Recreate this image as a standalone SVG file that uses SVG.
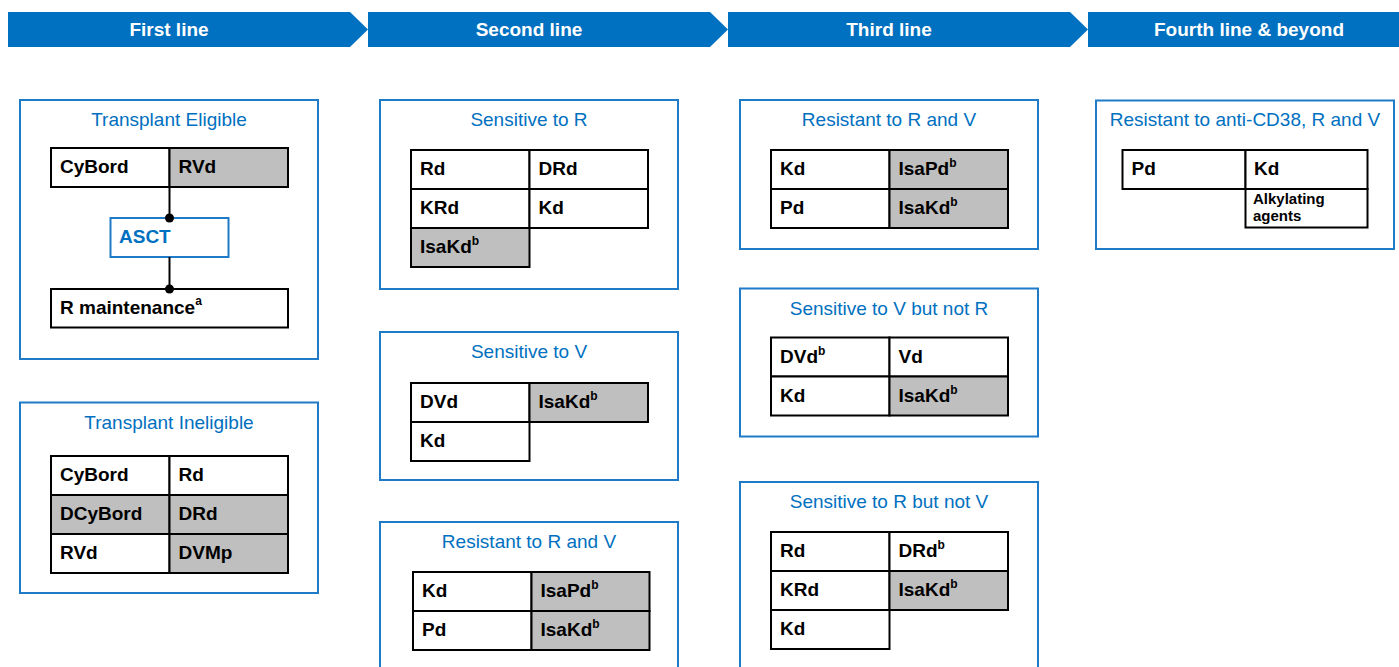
<svg xmlns="http://www.w3.org/2000/svg" width="1399" height="667" viewBox="0 0 1399 667">
<style>
.bar{fill:#0070C0}
.hdr{font-family:"Liberation Sans",Arial,sans-serif;font-weight:bold;font-size:19px;fill:#fff;text-anchor:middle}
.box{fill:#fff;stroke:#1F7BC8;stroke-width:2}
.title{font-family:"Liberation Sans",Arial,sans-serif;font-size:19px;fill:#0070C0;text-anchor:middle}
.c{fill:#fff;stroke:#000;stroke-width:2}
.g{fill:#BFBFBF;stroke:#000;stroke-width:2}
.t{font-family:"Liberation Sans",Arial,sans-serif;font-weight:bold;font-size:19px;fill:#000}
.s{font-size:12px}
.sm{font-family:"Liberation Sans",Arial,sans-serif;font-weight:bold;font-size:15px;fill:#000}
.asct{fill:#fff;stroke:#1F7BC8;stroke-width:2}
.asctt{font-family:"Liberation Sans",Arial,sans-serif;font-weight:bold;font-size:19px;fill:#0070C0}
.ln{stroke:#000;stroke-width:2;fill:none}
.dot{fill:#000}
</style>
<g id="header">
<polygon class="bar" points="8,12 350,12 368,29.5 350,47 8,47"/>
<text class="hdr" x="169" y="36">First line</text>
<polygon class="bar" points="368,12 710,12 728,29.5 710,47 368,47"/>
<text class="hdr" x="529" y="36">Second line</text>
<polygon class="bar" points="728,12 1070,12 1088,29.5 1070,47 728,47"/>
<text class="hdr" x="889" y="36">Third line</text>
<polygon class="bar" points="1088,12 1399,12 1399,47 1088,47"/>
<text class="hdr" x="1249" y="36">Fourth line &amp; beyond</text>
</g>

<g id="transplant-eligible">
<rect class="box" x="20" y="100" width="298" height="259"/>
<text class="title" x="169" y="126">Transplant Eligible</text>
<rect class="c" x="51" y="148" width="118.5" height="39"/>
<rect class="g" x="169.5" y="148" width="118.5" height="39"/>
<text class="t" x="60" y="173">CyBord</text>
<text class="t" x="178.5" y="173">RVd</text>
</g>
<g id="asct">
<rect class="asct" x="110.5" y="218" width="118" height="39"/>
<text class="asctt" x="119" y="243">ASCT</text>
</g>
<g id="r-maintenance">
<rect class="c" x="51" y="289" width="237" height="38.5"/>
<text class="t" x="60" y="313.5">R maintenance<tspan class="s" dy="-9">a</tspan></text>
</g>
<g id="connectors">
<line class="ln" x1="169.5" y1="187" x2="169.5" y2="218"/>
<circle class="dot" cx="169.5" cy="218" r="4.5"/>
<line class="ln" x1="169.5" y1="257" x2="169.5" y2="289"/>
<circle class="dot" cx="169.5" cy="289" r="4.5"/>
</g>

<g id="transplant-ineligible">
<rect class="box" x="20" y="402.5" width="298" height="190.5"/>
<text class="title" x="169" y="428.5">Transplant Ineligible</text>
<rect class="c" x="51" y="456" width="118.5" height="39"/>
<rect class="c" x="169.5" y="456" width="118.5" height="39"/>
<rect class="g" x="51" y="495" width="118.5" height="39"/>
<rect class="g" x="169.5" y="495" width="118.5" height="39"/>
<rect class="c" x="51" y="534" width="118.5" height="39"/>
<rect class="g" x="169.5" y="534" width="118.5" height="39"/>
<text class="t" x="60" y="481">CyBord</text>
<text class="t" x="178.5" y="481">Rd</text>
<text class="t" x="60" y="520">DCyBord</text>
<text class="t" x="178.5" y="520">DRd</text>
<text class="t" x="60" y="559">RVd</text>
<text class="t" x="178.5" y="559">DVMp</text>
</g>

<g id="sensitive-to-r">
<rect class="box" x="380" y="100" width="298" height="189"/>
<text class="title" x="529" y="126">Sensitive to R</text>
<rect class="c" x="411" y="150" width="118.5" height="39"/>
<rect class="c" x="529.5" y="150" width="118.5" height="39"/>
<rect class="c" x="411" y="189" width="118.5" height="39"/>
<rect class="c" x="529.5" y="189" width="118.5" height="39"/>
<rect class="g" x="411" y="228" width="118.5" height="39"/>
<text class="t" x="420" y="175">Rd</text>
<text class="t" x="538.5" y="175">DRd</text>
<text class="t" x="420" y="214">KRd</text>
<text class="t" x="538.5" y="214">Kd</text>
<text class="t" x="420" y="253">IsaKd<tspan class="s" dy="-8">b</tspan></text>
</g>

<g id="sensitive-to-v">
<rect class="box" x="380" y="332" width="298" height="148"/>
<text class="title" x="529" y="358">Sensitive to V</text>
<rect class="c" x="411" y="383" width="118.5" height="39"/>
<rect class="g" x="529.5" y="383" width="118.5" height="39"/>
<rect class="c" x="411" y="422" width="118.5" height="39"/>
<text class="t" x="420" y="408">DVd</text>
<text class="t" x="538.5" y="408">IsaKd<tspan class="s" dy="-8">b</tspan></text>
<text class="t" x="420" y="447">Kd</text>
</g>

<g id="resistant-r-v-2">
<rect class="box" x="380" y="522" width="298" height="160"/>
<text class="title" x="529" y="548">Resistant to R and V</text>
<rect class="c" x="413" y="572" width="118.5" height="39"/>
<rect class="g" x="531.5" y="572" width="118" height="39"/>
<rect class="c" x="413" y="611" width="118.5" height="39"/>
<rect class="g" x="531.5" y="611" width="118" height="39"/>
<text class="t" x="422" y="597">Kd</text>
<text class="t" x="540.5" y="597">IsaPd<tspan class="s" dy="-8">b</tspan></text>
<text class="t" x="422" y="636">Pd</text>
<text class="t" x="540.5" y="636">IsaKd<tspan class="s" dy="-8">b</tspan></text>
</g>

<g id="resistant-r-v-3">
<rect class="box" x="740" y="100" width="298" height="149"/>
<text class="title" x="889" y="126">Resistant to R and V</text>
<rect class="c" x="771" y="150" width="118.5" height="39"/>
<rect class="g" x="889.5" y="150" width="118.5" height="39"/>
<rect class="c" x="771" y="189" width="118.5" height="39"/>
<rect class="g" x="889.5" y="189" width="118.5" height="39"/>
<text class="t" x="780" y="175">Kd</text>
<text class="t" x="898.5" y="175">IsaPd<tspan class="s" dy="-8">b</tspan></text>
<text class="t" x="780" y="214">Pd</text>
<text class="t" x="898.5" y="214">IsaKd<tspan class="s" dy="-8">b</tspan></text>
</g>

<g id="sensitive-v-not-r">
<rect class="box" x="740" y="288.5" width="298" height="148"/>
<text class="title" x="889" y="314.5">Sensitive to V but not R</text>
<rect class="c" x="771" y="337.5" width="118.5" height="39"/>
<rect class="c" x="889.5" y="337.5" width="118.5" height="39"/>
<rect class="c" x="771" y="376.5" width="118.5" height="39"/>
<rect class="g" x="889.5" y="376.5" width="118.5" height="39"/>
<text class="t" x="780" y="362.5">DVd<tspan class="s" dy="-8">b</tspan></text>
<text class="t" x="898.5" y="362.5">Vd</text>
<text class="t" x="780" y="401.5">Kd</text>
<text class="t" x="898.5" y="401.5">IsaKd<tspan class="s" dy="-8">b</tspan></text>
</g>

<g id="sensitive-r-not-v">
<rect class="box" x="740" y="482" width="298" height="200"/>
<text class="title" x="889" y="508">Sensitive to R but not V</text>
<rect class="c" x="771" y="532" width="118.5" height="39"/>
<rect class="c" x="889.5" y="532" width="118.5" height="39"/>
<rect class="c" x="771" y="571" width="118.5" height="39"/>
<rect class="g" x="889.5" y="571" width="118.5" height="39"/>
<rect class="c" x="771" y="610" width="118.5" height="39"/>
<text class="t" x="780" y="557">Rd</text>
<text class="t" x="898.5" y="557">DRd<tspan class="s" dy="-8">b</tspan></text>
<text class="t" x="780" y="596">KRd</text>
<text class="t" x="898.5" y="596">IsaKd<tspan class="s" dy="-8">b</tspan></text>
<text class="t" x="780" y="635">Kd</text>
</g>

<g id="resistant-cd38">
<rect class="box" x="1096" y="100.5" width="298" height="148.5"/>
<text class="title" x="1245" y="126">Resistant to anti-CD38, R and V</text>
<rect class="c" x="1122.5" y="150" width="123" height="39"/>
<rect class="c" x="1245.5" y="150" width="122" height="39"/>
<rect class="c" x="1245.5" y="189" width="122" height="38.5"/>
<text class="t" x="1131.5" y="175">Pd</text>
<text class="t" x="1254" y="175">Kd</text>
<text class="sm" x="1253" y="203.5">Alkylating</text>
<text class="sm" x="1253" y="221">agents</text>
</g>
</svg>
